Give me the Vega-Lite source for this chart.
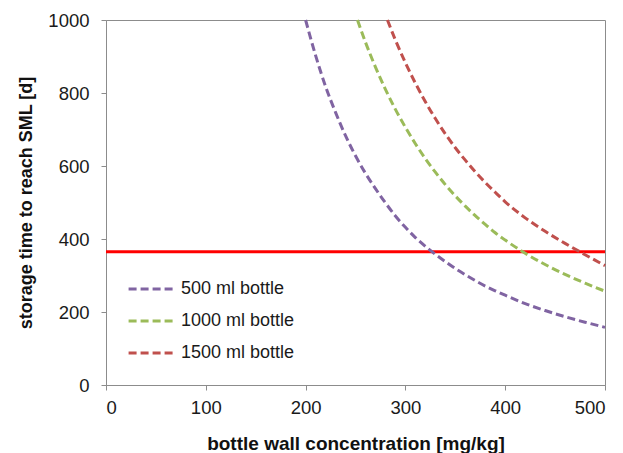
{
  "$schema": "https://vega.github.io/schema/vega-lite/v6.json",
  "autosize": {"type": "none"},
  "padding": {"left": 106, "top": 20, "right": 18, "bottom": 68},
  "width": 499,
  "height": 365,
  "background": "white",
  "config": {
    "font": "Liberation Sans",
    "view": {"stroke": "#8c8c8c", "strokeWidth": 1},
    "axis": {
      "grid": false,
      "domainColor": "#8c8c8c",
      "tickColor": "#8c8c8c",
      "tickSize": 5,
      "labelFont": "Liberation Sans",
      "labelFontSize": 18.5,
      "labelColor": "#1a1a1a",
      "titleFont": "Liberation Sans",
      "titleFontSize": 18,
      "titleFontWeight": "bold",
      "titleColor": "#111111"
    }
  },
  "datasets": {
    "curves": [
      {"c": 200, "t": 1000, "s": "500 ml bottle"},
      {"c": 210, "t": 903, "s": "500 ml bottle"},
      {"c": 220, "t": 818, "s": "500 ml bottle"},
      {"c": 230, "t": 747, "s": "500 ml bottle"},
      {"c": 240, "t": 683, "s": "500 ml bottle"},
      {"c": 250, "t": 628, "s": "500 ml bottle"},
      {"c": 260, "t": 580, "s": "500 ml bottle"},
      {"c": 270, "t": 538, "s": "500 ml bottle"},
      {"c": 280, "t": 499, "s": "500 ml bottle"},
      {"c": 290, "t": 463, "s": "500 ml bottle"},
      {"c": 300, "t": 432, "s": "500 ml bottle"},
      {"c": 310, "t": 404, "s": "500 ml bottle"},
      {"c": 320, "t": 380, "s": "500 ml bottle"},
      {"c": 330, "t": 358, "s": "500 ml bottle"},
      {"c": 340, "t": 338, "s": "500 ml bottle"},
      {"c": 350, "t": 319, "s": "500 ml bottle"},
      {"c": 360, "t": 302, "s": "500 ml bottle"},
      {"c": 370, "t": 286, "s": "500 ml bottle"},
      {"c": 380, "t": 271, "s": "500 ml bottle"},
      {"c": 390, "t": 258, "s": "500 ml bottle"},
      {"c": 400, "t": 246, "s": "500 ml bottle"},
      {"c": 420, "t": 223, "s": "500 ml bottle"},
      {"c": 440, "t": 204, "s": "500 ml bottle"},
      {"c": 460, "t": 187, "s": "500 ml bottle"},
      {"c": 480, "t": 172, "s": "500 ml bottle"},
      {"c": 500, "t": 158, "s": "500 ml bottle"},
      {"c": 252, "t": 1000, "s": "1000 ml bottle"},
      {"c": 260, "t": 939, "s": "1000 ml bottle"},
      {"c": 270, "t": 871, "s": "1000 ml bottle"},
      {"c": 280, "t": 810, "s": "1000 ml bottle"},
      {"c": 290, "t": 755, "s": "1000 ml bottle"},
      {"c": 300, "t": 706, "s": "1000 ml bottle"},
      {"c": 310, "t": 661, "s": "1000 ml bottle"},
      {"c": 320, "t": 620, "s": "1000 ml bottle"},
      {"c": 330, "t": 583, "s": "1000 ml bottle"},
      {"c": 340, "t": 549, "s": "1000 ml bottle"},
      {"c": 350, "t": 518, "s": "1000 ml bottle"},
      {"c": 360, "t": 490, "s": "1000 ml bottle"},
      {"c": 370, "t": 464, "s": "1000 ml bottle"},
      {"c": 380, "t": 440, "s": "1000 ml bottle"},
      {"c": 390, "t": 417, "s": "1000 ml bottle"},
      {"c": 400, "t": 397, "s": "1000 ml bottle"},
      {"c": 420, "t": 361, "s": "1000 ml bottle"},
      {"c": 440, "t": 330, "s": "1000 ml bottle"},
      {"c": 460, "t": 303, "s": "1000 ml bottle"},
      {"c": 480, "t": 279, "s": "1000 ml bottle"},
      {"c": 500, "t": 257, "s": "1000 ml bottle"},
      {"c": 282, "t": 1000, "s": "1500 ml bottle"},
      {"c": 290, "t": 945, "s": "1500 ml bottle"},
      {"c": 300, "t": 883, "s": "1500 ml bottle"},
      {"c": 310, "t": 827, "s": "1500 ml bottle"},
      {"c": 320, "t": 776, "s": "1500 ml bottle"},
      {"c": 330, "t": 730, "s": "1500 ml bottle"},
      {"c": 340, "t": 688, "s": "1500 ml bottle"},
      {"c": 350, "t": 650, "s": "1500 ml bottle"},
      {"c": 360, "t": 616, "s": "1500 ml bottle"},
      {"c": 370, "t": 584, "s": "1500 ml bottle"},
      {"c": 380, "t": 555, "s": "1500 ml bottle"},
      {"c": 390, "t": 528, "s": "1500 ml bottle"},
      {"c": 400, "t": 502, "s": "1500 ml bottle"},
      {"c": 420, "t": 458, "s": "1500 ml bottle"},
      {"c": 440, "t": 421, "s": "1500 ml bottle"},
      {"c": 460, "t": 388, "s": "1500 ml bottle"},
      {"c": 480, "t": 357, "s": "1500 ml bottle"},
      {"c": 500, "t": 327, "s": "1500 ml bottle"}
    ],
    "sml": [{"t": 365}]
  },
  "layer": [
    {
      "data": {"name": "sml"},
      "mark": {"type": "rule", "color": "#ff0000", "strokeWidth": 3},
      "encoding": {"y": {"field": "t", "type": "quantitative"}}
    },
    {
      "data": {"name": "curves"},
      "mark": {"type": "line", "strokeWidth": 3, "strokeDash": [8, 4], "interpolate": "monotone"},
      "encoding": {
        "x": {
          "field": "c",
          "type": "quantitative",
          "scale": {"domain": [0, 500], "nice": false},
          "axis": {"values": [0, 100, 200, 300, 400, 500], "format": "d", "title": "bottle wall concentration [mg/kg]", "titleFontSize": 19, "labelPadding": 8, "titlePadding": 18}
        },
        "y": {
          "field": "t",
          "type": "quantitative",
          "scale": {"domain": [0, 1000], "nice": false},
          "axis": {"values": [0, 200, 400, 600, 800, 1000], "format": "d", "title": "storage time to reach SML  [d]", "labelPadding": 12, "titlePadding": 12}
        },
        "color": {
          "field": "s",
          "type": "nominal",
          "scale": {"domain": ["500 ml bottle", "1000 ml bottle", "1500 ml bottle"], "range": ["#8064a2", "#9bbb59", "#c0504d"]},
          "legend": {
            "title": null,
            "orient": "none",
            "legendX": 21,
            "legendY": 259,
            "symbolType": "stroke",
            "symbolStrokeWidth": 3,
            "symbolDash": [8, 4],
            "symbolSize": 2100,
            "clipHeight": 20,
            "labelFontSize": 18,
            "labelColor": "#1a1a1a",
            "labelFont": "Liberation Sans",
            "rowPadding": 12,
            "labelOffset": 5
          }
        }
      }
    }
  ]
}
